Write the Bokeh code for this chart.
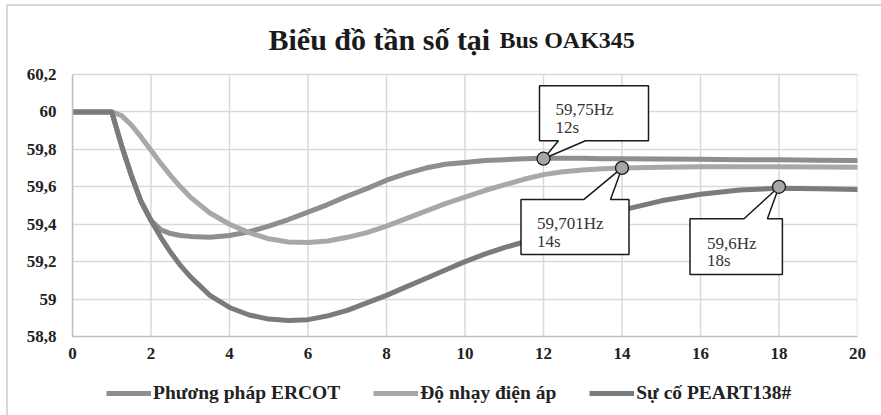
import numpy as np
from bokeh.plotting import figure
from bokeh.layouts import column
from bokeh.models import (FixedTicker, CustomJSTickFormatter, Legend, LegendItem,
                          Label, ColumnDataSource)
from bokeh.core.properties import value
from bokeh.embed import file_html
from bokeh.resources import INLINE

# ---------------- data ----------------
t = [0, 0.5, 1, 1.25, 1.5, 1.75, 2, 2.25, 2.5, 2.75, 3, 3.5, 4, 4.5, 5, 5.5, 6, 6.5,
     7, 7.5, 8, 8.5, 9, 9.5, 10, 10.5, 11, 11.5, 12, 12.5, 13, 13.5, 14, 15, 16, 17,
     18, 19, 20]

ercot = [60, 60, 60, 59.82, 59.66, 59.52, 59.42, 59.37, 59.35, 59.34, 59.335, 59.33,
         59.34, 59.36, 59.39, 59.425, 59.465, 59.505, 59.55, 59.59, 59.635, 59.67,
         59.70, 59.72, 59.73, 59.74, 59.745, 59.75, 59.752, 59.752, 59.752, 59.75,
         59.75, 59.748, 59.747, 59.745, 59.744, 59.742, 59.74]

do_nhay = [60, 60, 60, 59.98, 59.93, 59.865, 59.795, 59.725, 59.66, 59.6, 59.545,
           59.46, 59.40, 59.355, 59.322, 59.305, 59.302, 59.31, 59.33, 59.355, 59.39,
           59.43, 59.47, 59.51, 59.545, 59.58, 59.61, 59.64, 59.665, 59.68, 59.69,
           59.697, 59.701, 59.705, 59.707, 59.707, 59.707, 59.706, 59.705]

peart = [60, 60, 60, 59.82, 59.66, 59.52, 59.42, 59.33, 59.25, 59.18, 59.12, 59.02,
         58.955, 58.915, 58.893, 58.886, 58.89, 58.91, 58.94, 58.98, 59.02, 59.065,
         59.11, 59.155, 59.2, 59.24, 59.275, 59.305, 59.34, 59.375, 59.41, 59.445,
         59.475, 59.525, 59.56, 59.583, 59.592, 59.59, 59.585]

series_names = ["Phương pháp ERCOT", "Độ nhạy điện áp", "Sự cố PEART138#"]

x_ticks = [0, 2, 4, 6, 8, 10, 12, 14, 16, 18, 20]
y_ticks = [58.8, 59.0, 59.2, 59.4, 59.6, 59.8, 60.0, 60.2]

ann_x = [12, 14, 18]
ann_y = [59.75, 59.701, 59.6]
ann_hz = ["59,75Hz", "59,701Hz", "59,6Hz"]
ann_s = ["12s", "14s", "18s"]

title_main = "Biểu đồ tần số tại"
title_bus = "Bus OAK345"

# ---------------- layout / style ----------------
X0, X1 = 0, 20
Y0, Y1 = 58.8, 60.2
W = 873                       # canvas width (page offset 8 px by the outer border)
B_LEFT, B_RIGHT, B_TOP, B_BOTTOM = 64, 24, 8, 34
FW = W - B_LEFT - B_RIGHT     # 785 px plot-area width
PH = 262                      # plot-area height in px (58.8 .. 60.2)
FH = 322                      # frame height incl. title strip
LEG_H = 45                    # height of the legend strip
pxx = FW / (X1 - X0)
pxy = PH / (Y1 - Y0)
Y_TOP = Y1 + (FH - PH) / pxy
colors = ["#8e8e8e", "#a8a8a8", "#7b7b7b"]
SERIF = "Liberation Serif"
GRID = "#d9d9d9"

p = figure(frame_width=FW, frame_height=FH, x_range=(X0, X1),
           y_range=(Y0, Y_TOP), output_backend="svg", toolbar_location=None,
           min_border_left=B_LEFT, min_border_top=B_TOP, min_border_right=B_RIGHT,
           min_border_bottom=B_BOTTOM)
p.background_fill_color = "white"
p.border_fill_color = "white"
p.outline_line_color = None

p.xaxis.ticker = FixedTicker(ticks=x_ticks)
p.yaxis.ticker = FixedTicker(ticks=y_ticks)
p.yaxis.bounds = (Y0, Y1)
p.yaxis.formatter = CustomJSTickFormatter(
    code="return tick.toFixed(1).replace(/\\.0$/, '').replace('.', ',');")
for ax in (p.xaxis, p.yaxis):
    ax.axis_label = None
    ax.axis_label_standoff = 0
    ax.major_tick_out = 0
    ax.major_tick_in = 0
    ax.minor_tick_out = 0
    ax.minor_tick_in = 0
    ax.major_tick_line_color = None
    ax.minor_tick_line_color = None
    ax.axis_line_color = "#bfbfbf"
    ax.axis_line_width = 1.5
    ax.major_label_text_font = SERIF
    ax.major_label_text_font_style = "bold"
    ax.major_label_text_font_size = "17px"
    ax.major_label_text_color = "#222222"
p.xaxis.major_label_standoff = 11
p.yaxis.major_label_standoff = 16
p.xgrid.visible = False
p.ygrid.grid_line_color = GRID
p.ygrid.grid_line_width = 1.5

# vertical grid lines, limited to the value range
p.segment(x0=x_ticks, y0=[Y0] * len(x_ticks), x1=x_ticks, y1=[Y1] * len(x_ticks),
          line_color=GRID, line_width=1.5)

for ys, c in zip([ercot, do_nhay, peart], colors):
    p.line(t, ys, line_color=c, line_width=5, line_join="round", line_cap="round")

# callouts (pixel offsets relative to the annotated point; sx right, sy down)
boxes = [
    dict(L=-4, R=105, T=-73, B=-18, b1=15, b2=42, side="bottom", tx=12, ty1=-49, ty2=-31),
    dict(L=-101, R=7, T=31.5, B=86.5, b1=-38, b2=-11.5, side="top", tx=-85, ty1=56, ty2=74),
    dict(L=-89, R=3.4, T=32, B=87.6, b1=-35, b2=-11.6, side="top", tx=-72, ty1=57, ty2=74),
]
for ax_, ay_, b in zip(ann_x, ann_y, boxes):
    L, R, T, B = b["L"], b["R"], b["T"], b["B"]
    if b["side"] == "bottom":
        pts = [(L, T), (R, T), (R, B), (b["b2"], B), (0, 0), (b["b1"], B), (L, B)]
    else:
        pts = [(L, T), (b["b1"], T), (0, 0), (b["b2"], T), (R, T), (R, B), (L, B)]
    xs = [ax_ + sx / pxx for sx, sy in pts]
    ys = [ay_ - sy / pxy for sx, sy in pts]
    p.patch(xs, ys, fill_color="white", line_color="#1a1a1a", line_width=1.5)

src = ColumnDataSource(dict(x=ann_x, y=ann_y, hz=ann_hz, s=ann_s,
                            tx=[b["tx"] for b in boxes],
                            ty1=[b["ty1"] for b in boxes],
                            ty2=[b["ty2"] for b in boxes]))
p.scatter("x", "y", source=src, size=13, fill_color="#a6a6a6", line_color="#1a1a1a",
          line_width=1.3)
p.text("x", "y", text="hz", source=src, x_offset="tx", y_offset="ty1",
       text_font=value(SERIF), text_font_size="17px", text_color="#333333",
       text_baseline="alphabetic", text_align="left")
p.text("x", "y", text="s", source=src, x_offset="tx", y_offset="ty2",
       text_font=value(SERIF), text_font_size="17px", text_color="#333333",
       text_baseline="alphabetic", text_align="left")

# title (two sizes) inside the top strip of the frame
title_y = Y1 + 35 / pxy
p.add_layout(Label(x=X0 + 196 / pxx, y=title_y, text=title_main,
                   text_font=SERIF, text_font_style="bold", text_font_size="30px",
                   text_color="#1a1a1a", text_baseline="alphabetic"))
p.add_layout(Label(x=X0 + 427 / pxx, y=title_y, text=title_bus,
                   text_font=SERIF, text_font_style="bold", text_font_size="24px",
                   text_color="#1a1a1a", text_baseline="alphabetic"))

# ---------------- legend strip (separate small figure) ----------------
lg = figure(width=W, height=LEG_H, x_range=(X0, X1), y_range=(0, 1),
            x_axis_location=None, y_axis_location=None,
            output_backend="svg", toolbar_location=None, min_border=0)
lg.outline_line_color = None
lg.grid.visible = False
lg.background_fill_color = "white"
lg.border_fill_color = "white"
leg_renderers = []
for ys, c in zip([ercot, do_nhay, peart], colors):
    # same series, outside the strip's visible value range; used for legend glyphs
    leg_renderers.append(lg.line(t, ys, line_color=c, line_width=5))

legend = Legend(items=[LegendItem(label=n, renderers=[r])
                       for n, r in zip(series_names, leg_renderers)],
                orientation="horizontal", location=(34, 11),
                label_text_font=SERIF, label_text_font_style="bold",
                label_text_font_size="19.5px", label_text_color="#222222",
                glyph_width=45, glyph_height=20, spacing=33, label_standoff=2,
                border_line_color=None, background_fill_alpha=0,
                padding=0, margin=0)
lg.add_layout(legend, "center")

layout = column(p, lg, spacing=0)
layout.styles = {"border-left": "2px solid #d9d9d9", "border-top": "2px solid #d9d9d9",
                 "margin-left": "6px", "margin-top": "4px"}

open("out.html", "w").write(file_html(layout, INLINE))
